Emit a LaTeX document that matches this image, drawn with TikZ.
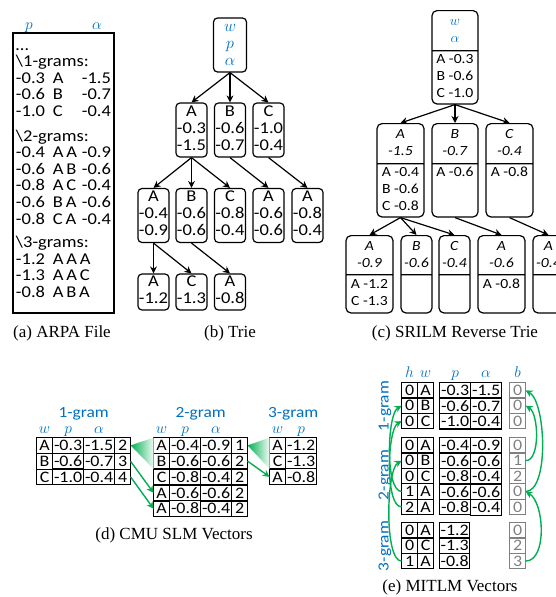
\documentclass[tikz,border=0pt]{standalone}
\usepackage{fix-cm}
\usepackage{fontspec}
\setmainfont{Carlito}[FakeStretch=1.12]
\newfontfamily\capfont{Liberation Serif}
\usepackage{amsmath,amssymb}
\usetikzlibrary{matrix,arrows.meta,shapes.multipart}
\definecolor{lmblue}{RGB}{0,112,192}
\definecolor{lmgreen}{RGB}{0,176,80}
\definecolor{lmgray}{RGB}{128,128,128}
\newcommand{\lines}[1]{\begin{tabular}{@{}c@{}}#1\end{tabular}}
\newcommand{\partbox}[2]{\vbox to #1{\vss\hbox{\lines{#2}}\vss}}
\newcommand{\arpa}[3]{\makebox[37pt][l]{#1}\makebox[27pt][l]{#2}\makebox[31pt][r]{#3}}
\newcommand{\bl}[1]{\textcolor{lmblue}{$#1$}}
\tikzset{
	>={Stealth[length=7pt,width=7pt]},
	tline/.style={line width=1.2pt},
	garr/.style={draw=lmgreen, line width=1.4pt, ->},
	trie/.style={draw, line width=1.2pt, rounded corners=4pt, inner sep=1pt, minimum width=31pt, minimum height=54pt, font=\fontsize{16.5}{17}\selectfont},
	srnode/.style={draw, line width=1.2pt, rounded corners=5pt, rectangle split, rectangle split parts=2, inner xsep=1pt, inner ysep=0pt, minimum width=#1, anchor=north, font=\fontsize{14}{17}\selectfont},
	tbl/.style={matrix of nodes, anchor=north west, inner sep=0pt, outer sep=0pt, column sep=-1.2pt, row sep=-1.2pt, nodes={draw, line width=1.2pt, minimum height=15.6pt, minimum width=31pt, inner sep=0pt, font=\fontsize{16}{16}\selectfont}},
	mit/.style={tbl, nodes={minimum height=15.4pt}},
	bcol/.style={mit, nodes={draw=lmgray, text=lmgray, minimum width=16pt}},
	narrow/.style={column #1/.style={nodes={minimum width=16pt}}},
	hdr/.style={text=lmblue, font=\fontsize{15.5}{16}\selectfont, anchor=base, inner sep=0pt},
	captext/.style={font=\capfont\fontsize{17}{19}\selectfont}
}
\begin{document}
\begin{tikzpicture}[x=1pt,y=1pt]
	\useasboundingbox (0,0) rectangle (556,-597);
	\node[hdr] (ap) at (29,-29) {$p$};
	\node[hdr] (aa) at (97,-29) {$\alpha$};
	\node[draw, line width=1.2pt, minimum width=101pt, minimum height=280pt, text width=95pt, inner xsep=2pt, align=left, font=\fontsize{16.5}{16.6}\selectfont] (arpa) at (63.5,-173) {\ldots\\
		\textbackslash1-grams:\\
		\arpa{-0.3}{A}{-1.5}\\
		\arpa{-0.6}{B}{-0.7}\\
		\arpa{-1.0}{C}{-0.4}\\[8pt]
		\textbackslash2-grams:\\
		\arpa{-0.4}{A\,A}{-0.9}\\
		\arpa{-0.6}{A\,B}{-0.6}\\
		\arpa{-0.8}{A\,C}{-0.4}\\
		\arpa{-0.6}{B\,A}{-0.6}\\
		\arpa{-0.8}{C\,A}{-0.4}\\[7pt]
		\textbackslash3-grams:\\
		\arpa{-1.2}{A\,A\,A}{}\\
		\arpa{-1.3}{A\,A\,C}{}\\
		\arpa{-0.8}{A\,B\,A}{}};
	\node[captext] (capa) at (62,-333) {(a) ARPA File};

	\node[trie, minimum width=33pt] (troot) at (230,-45) {\lines{\bl{w}\\\bl{p}\\\bl{\alpha}}};
	\node[trie] (t-a) at (191.5,-130) {\lines{A\\-0.3\\-1.5}};
	\node[trie] (t-b) at (230,-130) {\lines{B\\-0.6\\-0.7}};
	\node[trie] (t-c) at (268.5,-130) {\lines{C\\-1.0\\-0.4}};
	\node[trie] (t-aa) at (153.5,-215.5) {\lines{A\\-0.4\\-0.9}};
	\node[trie] (t-ab) at (191.5,-215.5) {\lines{B\\-0.6\\-0.6}};
	\node[trie] (t-ac) at (230,-215.5) {\lines{C\\-0.8\\-0.4}};
	\node[trie] (t-ba) at (268.5,-215.5) {\lines{A\\-0.6\\-0.6}};
	\node[trie] (t-ca) at (307.5,-215.5) {\lines{A\\-0.8\\-0.4}};
	\node[trie, minimum height=36pt] (t-aaa) at (153.5,-292) {\lines{A\\-1.2}};
	\node[trie, minimum height=36pt] (t-aac) at (191.5,-292) {\lines{C\\-1.3}};
	\node[trie, minimum height=36pt] (t-aba) at (230,-292) {\lines{A\\-0.8}};
	\draw[->, tline] (troot.south) -- (t-a.north);
	\draw[->, tline] (troot.south) -- (t-b.north);
	\draw[->, tline] (troot.south) -- (t-c.north);
	\draw[->, tline] (t-a.south) -- (t-aa.north);
	\draw[->, tline] (t-a.south) -- (t-ab.north);
	\draw[->, tline] (t-a.south) -- (t-ac.north);
	\draw[->, tline] (t-b.south) -- (t-ba.north);
	\draw[->, tline] (t-c.south) -- (t-ca.north);
	\draw[->, tline] (t-aa.south) -- (t-aaa.north);
	\draw[->, tline] (t-aa.south) -- (t-aac.north);
	\draw[->, tline] (t-ab.south) -- (t-aba.north);
	\node[captext] (capb) at (230,-333) {(b) Trie};

	\node[srnode=46pt] (s) at (455,-10) {\partbox{39pt}{\bl{w}\\\bl{\alpha}}\nodepart{two}\partbox{52pt}{A -0.3\\B -0.6\\C -1.0}};
	\node[srnode=47pt] (s-a) at (400.5,-123) {\partbox{39pt}{\textit{A}\\\textit{-1.5}}\nodepart{two}\partbox{52pt}{A -0.4\\B -0.6\\C -0.8}};
	\node[srnode=46pt] (s-b) at (455,-123) {\partbox{39pt}{\textit{B}\\\textit{-0.7}}\nodepart{two}\partbox{52pt}{A -0.6\\\mbox{}\\\mbox{}}};
	\node[srnode=47pt] (s-c) at (509.5,-123) {\partbox{39pt}{\textit{C}\\\textit{-0.4}}\nodepart{two}\partbox{52pt}{A -0.8\\\mbox{}\\\mbox{}}};
	\node[srnode=47pt] (s-aa) at (369.5,-235) {\partbox{38pt}{\textit{A}\\\textit{-0.9}}\nodepart{two}\partbox{37pt}{A -1.2\\C -1.3}};
	\node[srnode=31pt] (s-ab) at (416.5,-235) {\partbox{38pt}{\textit{B}\\\textit{-0.6}}\nodepart{two}\partbox{37pt}{\mbox{}\\\mbox{}}};
	\node[srnode=31pt] (s-ac) at (454.5,-235) {\partbox{38pt}{\textit{C}\\\textit{-0.4}}\nodepart{two}\partbox{37pt}{\mbox{}\\\mbox{}}};
	\node[srnode=47pt] (s-ba) at (501.5,-235) {\partbox{38pt}{\textit{A}\\\textit{-0.6}}\nodepart{two}\partbox{37pt}{A -0.8\\\mbox{}}};
	\node[srnode=31pt] (s-ca) at (548.5,-235) {\partbox{38pt}{\textit{A}\\\textit{-0.4}}\nodepart{two}\partbox{37pt}{\mbox{}\\\mbox{}}};
	\draw[->, tline] (s.south) -- (s-a.north);
	\draw[->, tline] (s.south) -- (s-b.north);
	\draw[->, tline] (s.south) -- (s-c.north);
	\draw[->, tline] (s-a.south) -- (s-aa.north);
	\draw[->, tline] (s-a.south) -- (s-ab.north);
	\draw[->, tline] (s-a.south) -- (s-ac.north);
	\draw[->, tline] (s-b.south) -- (s-ba.north);
	\draw[->, tline] (s-c.south) -- (s-ca.north);
	\node[captext] (capc) at (455,-333) {(c) SRILM Reverse Trie};

	\matrix (cmu1) [tbl, narrow=1, narrow=4] at (36,-437) {
		A & -0.3 & -1.5 & 2\\
		B & -0.6 & -0.7 & 3\\
		C & -1.0 & -0.4 & 4\\
	};
	\matrix (cmu2) [tbl, narrow=1, narrow=4] at (153,-437) {
		A & -0.4 & -0.9 & 1\\
		B & -0.6 & -0.6 & 2\\
		C & -0.8 & -0.4 & 2\\
		A & -0.6 & -0.6 & 2\\
		A & -0.8 & -0.4 & 2\\
	};
	\matrix (cmu3) [tbl, narrow=1] at (269,-437) {
		A & -1.2\\
		C & -1.3\\
		A & -0.8\\
	};
	\node[hdr] (cmu1-t) at (cmu1.north |- 0,-417) {1-gram};
	\node[hdr] (cmu2-t) at (cmu2.north |- 0,-417) {2-gram};
	\node[hdr] (cmu3-t) at (cmu3.north |- 0,-417) {3-gram};
	\node[hdr] (cmu1-w) at (cmu1-1-1 |- 0,-433) {$w$};
	\node[hdr] (cmu1-p) at (cmu1-1-2 |- 0,-433) {$p$};
	\node[hdr] (cmu1-a) at (cmu1-1-3 |- 0,-433) {$\alpha$};
	\node[hdr] (cmu2-w) at (cmu2-1-1 |- 0,-433) {$w$};
	\node[hdr] (cmu2-p) at (cmu2-1-2 |- 0,-433) {$p$};
	\node[hdr] (cmu2-a) at (cmu2-1-3 |- 0,-433) {$\alpha$};
	\node[hdr] (cmu3-w) at (cmu3-1-1 |- 0,-433) {$w$};
	\node[hdr] (cmu3-p) at (cmu3-1-2 |- 0,-433) {$p$};
	\shade[left color=lmgreen, right color=lmgreen!5] (cmu1-1-4.east) -- (cmu2-1-1.north west) -- (cmu2-2-1.south west) -- cycle;
	\draw[garr] (cmu1-2-4.east) -- (cmu2-4-1.west);
	\draw[garr] (cmu1-3-4.east) -- (cmu2-5-1.west);
	\shade[left color=lmgreen, right color=lmgreen!5] (cmu2-1-4.east) -- (cmu3-1-1.north west) -- (cmu3-2-1.south west) -- cycle;
	\draw[garr] (cmu2-2-4.east) -- (cmu3-3-1.west);
	\node[captext] (capd) at (174,-535) {(d) CMU SLM Vectors};

	\matrix (mhw1) [mit, narrow=1, narrow=2] at (401,-382) {
		0 & A\\
		0 & B\\
		0 & C\\
	};
	\matrix (mpa1) [mit] at (439,-382) {
		-0.3 & -1.5\\
		-0.6 & -0.7\\
		-1.0 & -0.4\\
	};
	\matrix (mb1) [bcol] at (509,-382) {
		0\\
		0\\
		0\\
	};
	\matrix (mhw2) [mit, narrow=1, narrow=2] at (401,-437) {
		0 & A\\
		0 & B\\
		0 & C\\
		1 & A\\
		2 & A\\
	};
	\matrix (mpa2) [mit] at (439,-437) {
		-0.4 & -0.9\\
		-0.6 & -0.6\\
		-0.8 & -0.4\\
		-0.6 & -0.6\\
		-0.8 & -0.4\\
	};
	\matrix (mb2) [bcol] at (509,-437) {
		0\\
		1\\
		2\\
		0\\
		0\\
	};
	\matrix (mhw3) [mit, narrow=1, narrow=2] at (401,-522) {
		0 & A\\
		0 & C\\
		1 & A\\
	};
	\matrix (mp3) [mit, nodes={minimum width=30pt}] at (439,-522) {
		-1.2\\
		-1.3\\
		-0.8\\
	};
	\matrix (mb3) [bcol] at (509,-522) {
		0\\
		2\\
		3\\
	};
	\node[hdr] (mit-h) at (mhw1-1-1 |- 0,-377) {$h$};
	\node[hdr] (mit-w) at (mhw1-1-2 |- 0,-377) {$w$};
	\node[hdr] (mit-p) at (mpa1-1-1 |- 0,-377) {$p$};
	\node[hdr] (mit-a) at (mpa1-1-2 |- 0,-377) {$\alpha$};
	\node[hdr] (mit-b) at (mb1-1-1 |- 0,-377) {$b$};
	\node[hdr, rotate=90, anchor=center] (mit1-t) at (385,-406) {1-gram};
	\node[hdr, rotate=90, anchor=center] (mit2-t) at (385,-475) {2-gram};
	\node[hdr, rotate=90, anchor=center] (mit3-t) at (385,-546) {3-gram};
	\draw[garr] (mhw2-4-1.west) to[out=180, in=210, looseness=0.5] (mhw1-2-1.west);
	\draw[garr] (mhw2-5-1.west) to[out=180, in=210, looseness=0.5] (mhw1-3-1.west);
	\draw[garr] (mhw3-3-1.west) to[out=180, in=210, looseness=0.45] (mhw2-2-1.west);
	\draw[garr] (mb2-2-1.east) to[out=0, in=-30, looseness=0.7] (mb1-2-1.east);
	\draw[garr] (mb2-4-1.east) to[out=0, in=-30, looseness=0.6] (mb1-1-1.east);
	\draw[garr] (mb3-3-1.east) to[out=0, in=-30, looseness=0.8] (mb2-4-1.east);
	\node[captext] (cape) at (450,-587) {(e) MITLM Vectors};
\end{tikzpicture}
\end{document}
